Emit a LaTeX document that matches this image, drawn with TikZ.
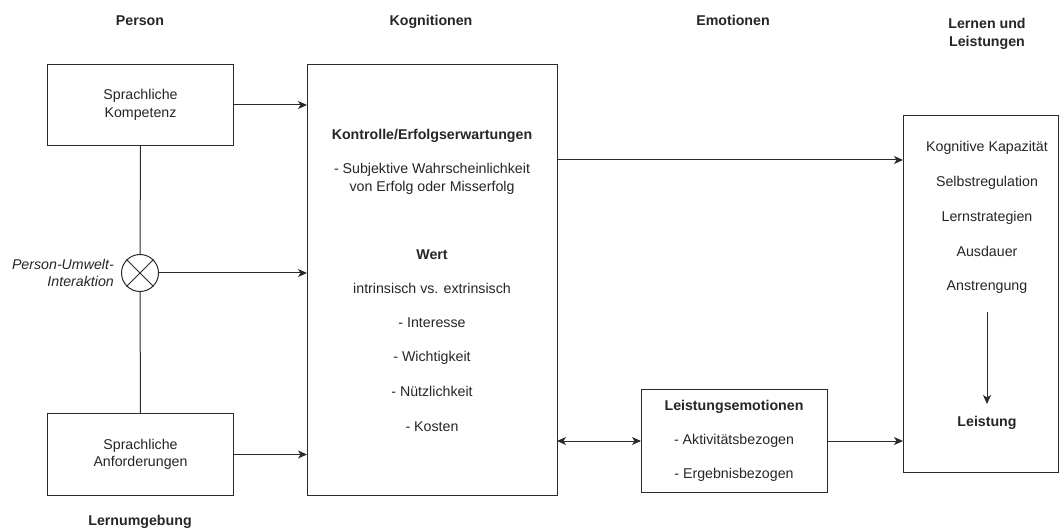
\documentclass[tikz,border=0pt]{standalone}
\usepackage{fontspec}
\setmainfont{Liberation Sans}
\usetikzlibrary{arrows.meta}
\definecolor{lc}{HTML}{2a2a2a}
\begin{document}
\begin{tikzpicture}[x=1pt,y=-1pt,
  every node/.style={font=\fontsize{14.2}{17.5}\selectfont, text=black!85, inner sep=0pt},
  boxstyle/.style={draw=lc, line width=1pt, fill=white, anchor=north west},
  hdr/.style={font=\fontsize{14.2}{17.5}\selectfont\bfseries, align=center, text height=10pt, text depth=3pt},
  hdrm/.style={font=\fontsize{14.2}{17.5}\selectfont\bfseries, align=center},
  txt/.style={align=center, text height=10pt, text depth=3pt},
  txtm/.style={align=center},
  conn/.style={draw=lc, line width=1pt},
  arr/.style={conn, -{Stealth[length=9pt,width=8pt,inset=2.5pt]}},
  darr/.style={conn, {Stealth[length=9pt,width=8pt,inset=2.5pt]}-{Stealth[length=9pt,width=8pt,inset=2.5pt]}}
]
\useasboundingbox (0,0) rectangle (1060,529);

% headers
\node[hdr] (hPerson) at (140,22) {Person};
\node[hdr] (hKog) at (431,22) {Kognitionen};
\node[hdr] (hEmo) at (733,22) {Emotionen};
\node[hdrm] (hLL) at (987,34) {Lernen und\\Leistungen};
\node[hdr] (hLU) at (140,522) {Lernumgebung};

% left boxes
\node[boxstyle, minimum width=186pt, minimum height=81pt] (sk) at (47,64) {};
\node[txtm] (skt) at (sk.center) {Sprachliche\\Kompetenz};
\node[boxstyle, minimum width=186pt, minimum height=82pt] (sa) at (47,413) {};
\node[txtm] (sat) at (sa.center) {Sprachliche\\Anforderungen};

% interaction circle
\node[circle, draw=lc, line width=1pt, minimum size=37pt] (pu) at (140,273) {};
\draw[conn] (pu.45) -- (pu.225) (pu.135) -- (pu.315);
\node[txtm, font=\fontsize{14.2}{17.5}\selectfont\itshape, anchor=east, align=right] (put) at (114,273) {Person-Umwelt-\\Interaktion};

% cognitions box
\node[boxstyle, minimum width=250pt, minimum height=431pt] (kog) at (307,64) {};
\node[txt, font=\fontsize{14.2}{17.5}\selectfont\bfseries] (k1) at (432,136) {Kontrolle/Erfolgserwartungen};
\node[txtm] (k2) at (432,179) {- Subjektive Wahrscheinlichkeit\\von Erfolg oder Misserfolg};
\node[txt, font=\fontsize{14.2}{17.5}\selectfont\bfseries] (k3) at (432,256) {Wert};
\node[txt] (k4) at (432,290) {intrinsisch vs. extrinsisch};
\node[txt] (k5) at (432,324) {- Interesse};
\node[txt] (k6) at (432,358) {- Wichtigkeit};
\node[txt] (k7) at (432,393) {- Nützlichkeit};
\node[txt] (k8) at (432,428) {- Kosten};

% emotions box
\node[boxstyle, minimum width=186pt, minimum height=103pt] (emo) at (641,389) {};
\node[txt, font=\fontsize{14.2}{17.5}\selectfont\bfseries] (e1) at (734,407) {Leistungsemotionen};
\node[txt] (e2) at (734,441) {- Aktivitätsbezogen};
\node[txt] (e3) at (734,475) {- Ergebnisbezogen};

% learning box
\node[boxstyle, minimum width=155pt, minimum height=357pt] (ll) at (903,115) {};
\node[txt] (l1) at (987,148) {Kognitive Kapazität};
\node[txt] (l2) at (987,183) {Selbstregulation};
\node[txt] (l3) at (987,218) {Lernstrategien};
\node[txt] (l4) at (987,253) {Ausdauer};
\node[txt] (l5) at (987,287) {Anstrengung};
\node[txt, font=\fontsize{14.2}{17.5}\selectfont\bfseries] (l6) at (987,423) {Leistung};
\coordinate (la) at (987,312);
\coordinate (lb) at (987,404);
\draw[arr] (la) -- (lb);

% connectors
\draw[conn] (sk.south) -- (pu.north);
\draw[conn] (pu.south) -- (sa.north);
\draw[arr] (sk.east) -- (kog.west |- sk.east);
\draw[arr] (pu.east) -- (kog.west |- pu.east);
\draw[arr] (sa.east) -- (kog.west |- sa.east);
\coordinate (kr) at (557,160);
\draw[arr] (kr) -- (ll.west |- kr);
\coordinate (ke) at (557,441);
\draw[darr] (ke) -- (emo.west |- ke);
\draw[arr] (emo.east |- ke) -- (ll.west |- ke);
\end{tikzpicture}
\end{document}
